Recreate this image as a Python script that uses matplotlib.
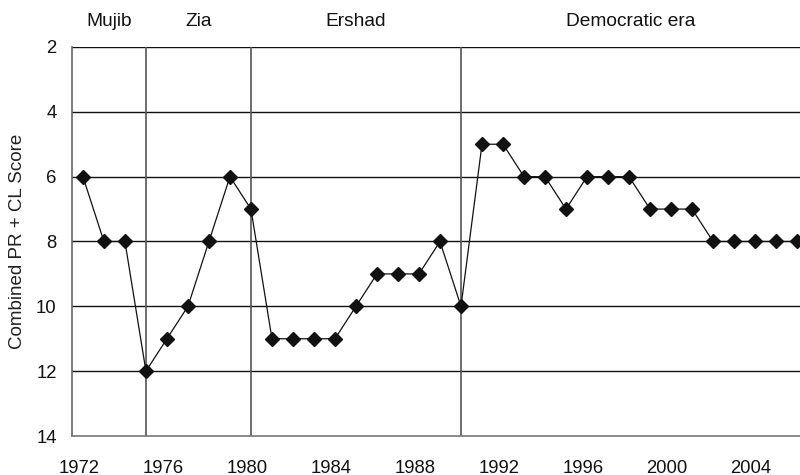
import matplotlib
matplotlib.use("Agg")
import matplotlib.pyplot as plt
from matplotlib.transforms import blended_transform_factory, ScaledTranslation

plt.rcParams['font.family'] = ['Liberation Sans', 'DejaVu Sans']

years = list(range(1972, 2007))
scores = [6, 8, 8, 12, 11, 10, 8, 6, 7, 11, 11, 11, 11, 10, 9, 9, 9, 8, 10,
          5, 5, 6, 6, 7, 6, 6, 6, 7, 7, 7, 8, 8, 8, 8, 8]
era_names = ["Mujib", "Zia", "Ershad", "Democratic era"]
era_bounds = [1971.48, 1975, 1980, 1990, 2006.14]
yticks = [2, 4, 6, 8, 10, 12, 14]
xticks = [1972, 1976, 1980, 1984, 1988, 1992, 1996, 2000, 2004]

fig = plt.figure(figsize=(8, 4.75), dpi=100)
ax = fig.add_axes([0.09, 0.0821, 0.91, 0.819])

ax.set_xlim(era_bounds[0], era_bounds[-1])
ax.set_ylim(14, 2)

for y in yticks[:-1]:
    ax.axhline(y, color='#111111', lw=1.0, zorder=1)
for xb in era_bounds[1:-1]:
    ax.axvline(xb, color='#555555', lw=1.2, zorder=1)

ax.plot(years, scores, color='#111111', lw=0.9, marker='D', ms=6.8,
        mfc='#111111', mec='#111111', zorder=3, clip_on=False)

for s in ['top', 'right']:
    ax.spines[s].set_visible(False)
ax.spines['left'].set_color('#666666')
ax.spines['bottom'].set_color('#777777')
ax.spines['left'].set_linewidth(1.2)
ax.spines['bottom'].set_linewidth(1.2)

ax.set_yticks(yticks)
ax.set_yticklabels([str(v) for v in yticks])
ax.set_xticks(xticks)
ax.set_xticklabels([str(v) for v in xticks])
ax.tick_params(axis='both', length=0, labelsize=13.3, colors='#111111')
ax.tick_params(axis='x', pad=17)
ax.tick_params(axis='y', pad=11)
shift = ScaledTranslation(-4 / 100, 0, fig.dpi_scale_trans)
for lab in ax.get_xticklabels():
    lab.set_transform(lab.get_transform() + shift)

ax.set_ylabel("Combined PR + CL Score", fontsize=13.5, color='#222222', labelpad=7)

trans = blended_transform_factory(ax.transData, fig.transFigure)
for name, a, b in zip(era_names, era_bounds[:-1], era_bounds[1:]):
    ax.text((a + b) / 2, 1 - 22 / 475, name, transform=trans, ha='center',
            va='center', fontsize=13.8, color='#111111')

fig.savefig("out.png", dpi=100)
